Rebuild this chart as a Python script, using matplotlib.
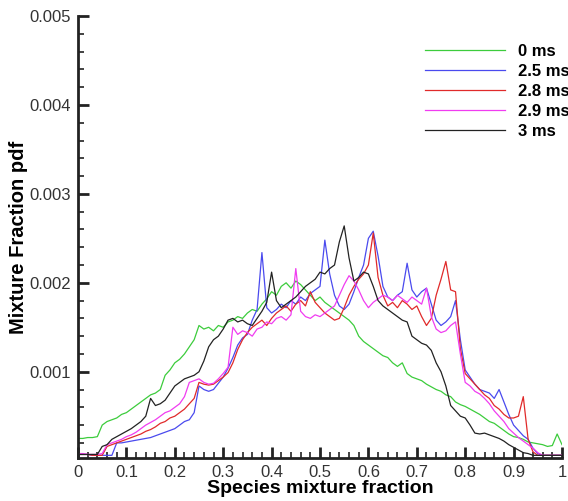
import numpy as np
import matplotlib
matplotlib.use("Agg")
import matplotlib.pyplot as plt
from matplotlib.ticker import MultipleLocator, FixedLocator

plt.rcParams["font.family"] = ["Liberation Sans", "DejaVu Sans"]

# Mixture fraction axis (0 to 1, step 0.01).
mix_frac = np.linspace(0.0, 1.0, 101)

# pdf values, in units of 1e-3.
pdf_0ms = [
    0.25, 0.25, 0.26, 0.26, 0.27, 0.40, 0.44, 0.46, 0.48, 0.52,
    0.54, 0.58, 0.62, 0.66, 0.70, 0.74, 0.76, 0.80, 0.96, 1.02,
    1.10, 1.14, 1.20, 1.28, 1.36, 1.52, 1.48, 1.50, 1.46, 1.52,
    1.50, 1.56, 1.58, 1.62, 1.60, 1.66, 1.70, 1.68, 1.76, 1.82,
    1.90, 1.86, 1.96, 2.00, 1.94, 2.02, 1.98, 1.92, 1.86, 1.80,
    1.84, 1.78, 1.74, 1.70, 1.66, 1.62, 1.58, 1.52, 1.40, 1.34,
    1.30, 1.26, 1.22, 1.18, 1.16, 1.10, 1.06, 1.10, 0.98, 0.94,
    0.92, 0.90, 0.86, 0.83, 0.80, 0.78, 0.74, 0.72, 0.66, 0.63,
    0.61, 0.58, 0.55, 0.52, 0.48, 0.44, 0.42, 0.38, 0.34, 0.30,
    0.27, 0.26, 0.24, 0.21, 0.20, 0.19, 0.18, 0.16, 0.17, 0.30,
    0.18,
]
pdf_25ms = [
    0.07, 0.07, 0.07, 0.06, 0.06, 0.06, 0.06, 0.06, 0.20, 0.20,
    0.21, 0.22, 0.23, 0.24, 0.25, 0.26, 0.28, 0.30, 0.32, 0.34,
    0.36, 0.40, 0.44, 0.46, 0.54, 0.84, 0.80, 0.78, 0.80, 0.87,
    0.94, 1.04, 1.16, 1.30, 1.38, 1.42, 1.58, 1.70, 2.34, 1.72,
    1.66, 1.70, 1.76, 1.72, 1.80, 1.76, 1.84, 1.80, 1.88, 1.92,
    1.96, 2.48, 2.10, 1.86, 1.74, 1.70, 1.76, 1.90, 2.06, 2.20,
    2.50, 2.58, 2.30, 1.96, 1.84, 1.80, 1.86, 1.90, 2.22, 1.92,
    1.84, 1.90, 1.94, 1.76, 1.58, 1.52, 1.56, 1.62, 1.80, 1.36,
    1.02, 0.94, 0.86, 0.80, 0.78, 0.76, 0.70, 0.80, 0.66, 0.52,
    0.40, 0.34, 0.28, 0.24, 0.14, 0.08, 0.06, 0.06, 0.06, 0.06,
    0.06,
]
pdf_28ms = [
    0.07, 0.07, 0.07, 0.06, 0.06, 0.06, 0.16, 0.18, 0.20, 0.22,
    0.24, 0.26, 0.28, 0.30, 0.33, 0.35, 0.38, 0.42, 0.44, 0.48,
    0.50, 0.54, 0.58, 0.64, 0.70, 0.88, 0.86, 0.85, 0.86, 0.90,
    0.94, 0.99, 1.10, 1.25, 1.36, 1.44, 1.50, 1.54, 1.58, 1.52,
    1.60, 1.66, 1.70, 1.74, 1.68, 1.76, 1.80, 1.74, 1.90, 1.78,
    1.72, 1.66, 1.62, 1.58, 1.60, 1.72, 1.86, 1.96, 2.04, 2.10,
    2.20, 2.56, 2.06, 1.86, 1.74, 1.78, 1.72, 1.80, 1.76, 1.70,
    1.74, 1.62, 1.52, 1.60, 1.86, 2.04, 2.24, 1.92, 1.90, 1.26,
    0.98, 0.92, 0.86, 0.80, 0.74, 0.70, 0.62, 0.58, 0.52, 0.48,
    0.48, 0.50, 0.72, 0.24, 0.10, 0.06, 0.06, 0.06, 0.06, 0.06,
    0.06,
]
pdf_29ms = [
    0.08, 0.08, 0.07, 0.07, 0.07, 0.08, 0.18, 0.20, 0.22, 0.24,
    0.27, 0.29, 0.32, 0.36, 0.40, 0.43, 0.46, 0.50, 0.54, 0.56,
    0.60, 0.64, 0.72, 0.88, 0.90, 0.92, 0.88, 0.86, 0.87, 0.92,
    0.98, 1.05, 1.50, 1.42, 1.46, 1.44, 1.40, 1.48, 1.50, 1.56,
    1.54, 1.60, 1.62, 1.58, 1.64, 2.16, 1.68, 1.62, 1.60, 1.64,
    1.62, 1.66, 1.70, 1.74, 1.86, 1.98, 2.08, 2.02, 1.92, 1.80,
    1.72, 1.78, 1.82, 1.86, 1.84, 1.80, 1.86, 1.82, 1.78, 1.84,
    1.80, 1.76, 1.94, 1.62, 1.48, 1.44, 1.46, 1.52, 1.56, 1.20,
    0.88, 0.84, 0.78, 0.75, 0.70, 0.64, 0.56, 0.50, 0.44, 0.36,
    0.31, 0.26, 0.22, 0.18, 0.14, 0.09, 0.06, 0.06, 0.06, 0.06,
    0.06,
]
pdf_3ms = [
    0.07, 0.07, 0.07, 0.07, 0.07, 0.16, 0.18, 0.24, 0.27, 0.30,
    0.33, 0.36, 0.40, 0.44, 0.50, 0.70, 0.62, 0.64, 0.68, 0.76,
    0.84, 0.88, 0.92, 0.94, 0.96, 1.00, 1.12, 1.28, 1.36, 1.40,
    1.48, 1.58, 1.60, 1.56, 1.58, 1.54, 1.52, 1.60, 1.68, 1.78,
    2.12, 1.80, 1.72, 1.76, 1.80, 1.84, 1.90, 1.96, 2.00, 2.04,
    2.12, 2.10, 2.16, 2.20, 2.46, 2.64, 2.28, 2.02, 2.06, 2.12,
    2.10, 1.96, 1.80, 1.74, 1.70, 1.66, 1.62, 1.58, 1.56, 1.40,
    1.36, 1.32, 1.30, 1.24, 1.10, 1.00, 0.84, 0.62, 0.56, 0.50,
    0.48, 0.40, 0.31, 0.30, 0.31, 0.29, 0.27, 0.25, 0.22, 0.18,
    0.15, 0.12, 0.09, 0.08, 0.06, 0.06, 0.06, 0.06, 0.06, 0.06,
    0.06,
]

labels = ["0 ms", "2.5 ms", "2.8 ms", "2.9 ms", "3 ms"]
colors = ["#3ccc3c", "#4a4aee", "#e02a2a", "#f03cf0", "#222222"]
series = [pdf_0ms, pdf_25ms, pdf_28ms, pdf_29ms, pdf_3ms]

y_ticks = [0.001, 0.002, 0.003, 0.004, 0.005]
x_ticks = [0, 0.1, 0.2, 0.3, 0.4, 0.5, 0.6, 0.7, 0.8, 0.9, 1]
x_tick_labels = ["0", "0.1", "0.2", "0.3", "0.4", "0.5", "0.6", "0.7", "0.8", "0.9", "1"]

fig = plt.figure(figsize=(5.68, 5.01), dpi=100)
ax = fig.add_axes([78 / 568, 43 / 501, 484 / 568, 442 / 501])

for vals, color, label in zip(series, colors, labels):
    ax.plot(mix_frac, np.array(vals) * 1e-3, color=color, linewidth=0.9, label=label)

ax.set_xlim(0, 1)
ax.set_ylim(0.00003, 0.005)

# Tecplot-like axes: only left and bottom, ticks pointing inward.
ax.spines["top"].set_visible(False)
ax.spines["right"].set_visible(False)
for side in ["left", "bottom"]:
    ax.spines[side].set_linewidth(2)
    ax.spines[side].set_color("#222222")

ax.xaxis.set_major_locator(FixedLocator(x_ticks))
ax.set_xticklabels(x_tick_labels)
ax.xaxis.set_minor_locator(MultipleLocator(0.02))
ax.yaxis.set_major_locator(FixedLocator(y_ticks))
ax.set_yticklabels([f"{t:.3f}" for t in y_ticks])
ax.yaxis.set_minor_locator(MultipleLocator(0.0002))

ax.tick_params(which="major", direction="in", length=8, width=2, color="#222222",
               labelsize=12, labelcolor="#333333", pad=5)
ax.tick_params(which="minor", direction="in", length=4, width=1.2, color="#222222")

ax.set_xlabel("Species mixture fraction", fontsize=14, fontweight="bold", labelpad=0)
ax.set_ylabel("Mixture Fraction pdf", fontsize=14.5, fontweight="bold", labelpad=1)

fig.legend(loc="upper left", bbox_to_anchor=(425 / 568, 1 - 44 / 501), frameon=False,
           prop={"weight": "bold", "size": 12}, handlelength=4.8, handletextpad=0.8,
           labelspacing=0.3, borderpad=0, borderaxespad=0)

fig.savefig("out.png", dpi=100)
